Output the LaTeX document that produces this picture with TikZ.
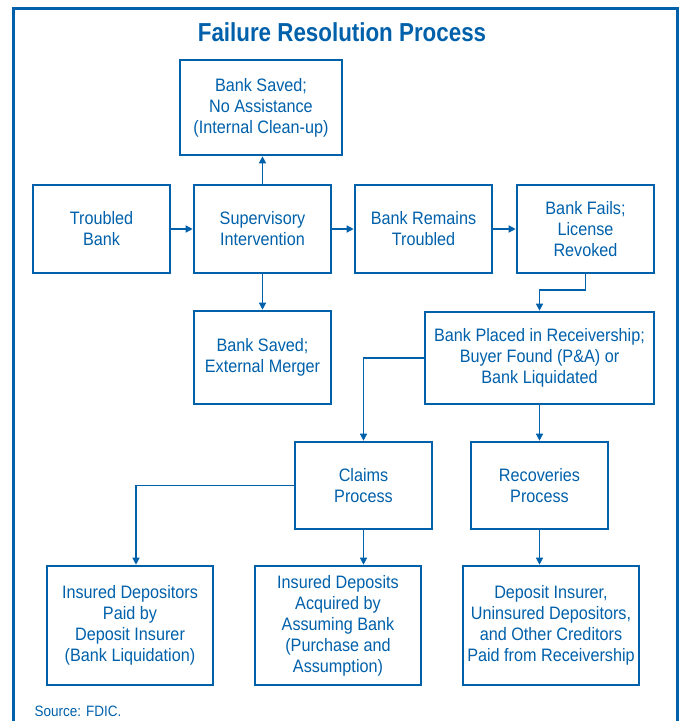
\documentclass[tikz,border=0pt]{standalone}
\usepackage{fontspec}
\setmainfont[FakeStretch=0.9]{Liberation Sans}
\newfontfamily\titlefont[FakeStretch=0.86]{Liberation Sans}
\usetikzlibrary{arrows.meta}
\definecolor{fdic}{RGB}{0,96,170}
\tikzset{
  box/.style={draw=fdic, line width=2.6pt, text=fdic, align=center, inner sep=2pt,
    font=\fontsize{18}{21}\selectfont, rectangle},
  conn/.style={draw=fdic, line width=1.3pt, -{Triangle[length=7pt,width=7pt]}},
}
\begin{document}
\begin{tikzpicture}[x=1pt,y=-1pt]
\useasboundingbox (0,0) rectangle (679,721);
\draw[fdic, line width=3pt] (13,721) -- (13,8) -- (677,8) -- (677,721);
\node[text=fdic, font=\titlefont\fontsize{26}{30}\selectfont\bfseries, anchor=base] (title) at (342,41) {Failure Resolution Process};

\node[box, minimum width=162pt, minimum height=95pt] (saved1) at (261,107.5) {Bank Saved;\\No Assistance\\(Internal Clean-up)};
\node[box, minimum width=137pt, minimum height=88pt] (troubled) at (101.5,229) {Troubled\\Bank};
\node[box, minimum width=137pt, minimum height=88pt] (superv) at (262.5,229) {Supervisory\\Intervention};
\node[box, minimum width=137pt, minimum height=88pt] (remains) at (423.5,229) {Bank Remains\\Troubled};
\node[box, minimum width=137pt, minimum height=88pt] (fails) at (585.5,229) {Bank Fails;\\License\\Revoked};
\node[box, minimum width=137pt, minimum height=93pt] (merger) at (262.5,357.5) {Bank Saved;\\External Merger};
\node[box, minimum width=229pt, minimum height=92pt] (receiv) at (539.5,358) {Bank Placed in Receivership;\\Buyer Found (P\&A) or\\Bank Liquidated};
\node[box, minimum width=137pt, minimum height=87pt] (claims) at (363.5,485.5) {Claims\\Process};
\node[box, minimum width=137pt, minimum height=87pt] (recov) at (539.5,485.5) {Recoveries\\Process};
\node[box, minimum width=166pt, minimum height=119pt] (ins1) at (130,625.5) {Insured Depositors\\Paid by\\Deposit Insurer\\(Bank Liquidation)};
\node[box, minimum width=166pt, minimum height=119pt] (ins2) at (338,625.5) {Insured Deposits\\Acquired by\\Assuming Bank\\(Purchase and\\Assumption)};
\node[box, minimum width=176pt, minimum height=119pt] (ins3) at (551,625.5) {Deposit Insurer,\\Uninsured Depositors,\\and Other Creditors\\Paid from Receivership};

\node[text=fdic, font=\fontsize{15}{18}\selectfont, anchor=base west] (src) at (31,716) {Source: FDIC.};

\coordinate (f1) at (539.5,290);
\draw[conn] (troubled.east) -- (superv.west);
\draw[conn] (superv.east) -- (remains.west);
\draw[conn] (remains.east) -- (fails.west);
\draw[conn] (superv.north) -- (superv.north |- saved1.south);
\draw[conn] (superv.south) -- (merger.north);
\draw[conn] (fails.south) |- (f1) -- (receiv.north);
\draw[conn] (receiv.west) -| (claims.north);
\draw[conn] (receiv.south) -- (recov.north);
\draw[conn] (claims.west) -| ([xshift=6pt]ins1.north);
\draw[conn] (claims.south) -- (claims.south |- ins2.north);
\draw[conn] (recov.south) -- (recov.south |- ins3.north);
\end{tikzpicture}
\end{document}
